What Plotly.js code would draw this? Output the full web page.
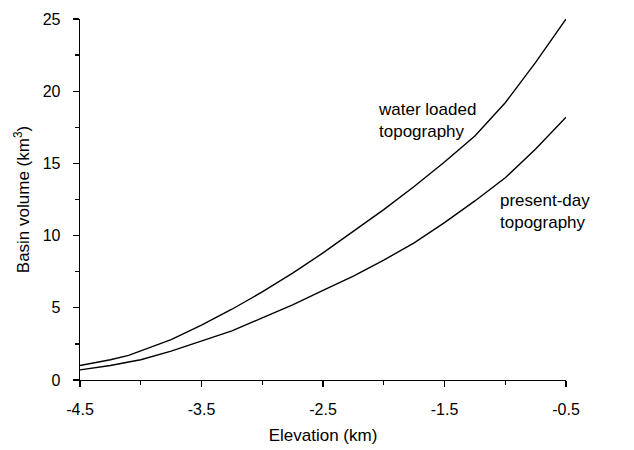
<!DOCTYPE html>
<html>
<head>
<meta charset="utf-8">
<script src="https://cdn.plot.ly/plotly-3.0.1.min.js"></script>
<style>html,body{margin:0;padding:0;background:#fff}#chart{width:634px;height:450px}</style>
</head>
<body>
<div id="chart"></div>
<script>
const elevation = [-4.5, -4.25, -4.1, -4.0, -3.75, -3.5, -3.25, -3.0, -2.75, -2.5, -2.25, -2.0, -1.75, -1.5, -1.25, -1.0, -0.75, -0.5];
const waterLoaded = [1.0, 1.4, 1.7, 2.0, 2.8, 3.8, 4.9, 6.1, 7.4, 8.8, 10.3, 11.8, 13.4, 15.1, 16.9, 19.2, 22.0, 25.0];
const presentDay = [0.7, 1.0, 1.25, 1.4, 2.0, 2.7, 3.4, 4.3, 5.2, 6.2, 7.2, 8.3, 9.5, 10.9, 12.4, 14.0, 16.0, 18.2];
const xTicks = [-4.5, -3.5, -2.5, -1.5, -0.5];
const xTickLabels = ['-4.5', '-3.5', '-2.5', '-1.5', '-0.5'];
const yTicks = [0, 5, 10, 15, 20, 25];

const lineStyle = {color: '#000', width: 1.4};
const traces = [
  {x: elevation, y: waterLoaded, mode: 'lines', line: lineStyle, name: 'water loaded topography', hoverinfo: 'none'},
  {x: elevation, y: presentDay, mode: 'lines', line: lineStyle, name: 'present-day topography', hoverinfo: 'none'}
];
const fam = 'Liberation Sans, Arial, sans-serif';
const tickFont = {family: fam, size: 16, color: '#000'};
const titleFont = {family: fam, size: 17, color: '#000'};
const annFont = {family: fam, size: 17, color: '#000'};
const layout = {
  width: 634, height: 450,
  margin: {l: 80, r: 68, t: 19, b: 70},
  paper_bgcolor: '#fff', plot_bgcolor: '#fff',
  showlegend: false,
  font: tickFont,
  xaxis: {
    range: [-4.5, -0.5], tickmode: 'array', tickvals: xTicks, ticktext: xTickLabels,
    ticks: 'outside', ticklen: 6, tickwidth: 1.3, tickcolor: '#000',
    showline: true, linecolor: '#000', linewidth: 1.3, showgrid: false, zeroline: false,
    tickfont: tickFont, ticklabelstandoff: 8,
    minor: {dtick: 0.5, tick0: -4.5, ticks: 'outside', ticklen: 4, tickwidth: 1.3, tickcolor: '#000', showgrid: false},
    title: {text: 'Elevation (km)', font: titleFont, standoff: 12}
  },
  yaxis: {
    range: [0, 25], tickmode: 'array', tickvals: yTicks,
    ticks: 'outside', ticklen: 6, tickwidth: 1.3, tickcolor: '#000',
    showline: true, linecolor: '#000', linewidth: 1.3, showgrid: false, zeroline: false,
    tickfont: tickFont, ticklabelstandoff: 9,
    minor: {dtick: 2.5, tick0: 0, ticks: 'outside', ticklen: 4, tickwidth: 1.3, tickcolor: '#000', showgrid: false},
    title: {text: 'Basin volume (km<sup>3</sup>)', font: titleFont, standoff: 8}
  },
  annotations: [
    {x: -2.06, y: 18.0, xref: 'x', yref: 'y', text: 'water loaded<br>topography', showarrow: false, xanchor: 'left', yanchor: 'middle', align: 'left', font: annFont},
    {x: -1.06, y: 11.7, xref: 'x', yref: 'y', text: 'present-day<br>topography', showarrow: false, xanchor: 'left', yanchor: 'middle', align: 'left', font: annFont}
  ]
};
Plotly.newPlot('chart', traces, layout, {staticPlot: true, displayModeBar: false});
</script>
</body>
</html>
